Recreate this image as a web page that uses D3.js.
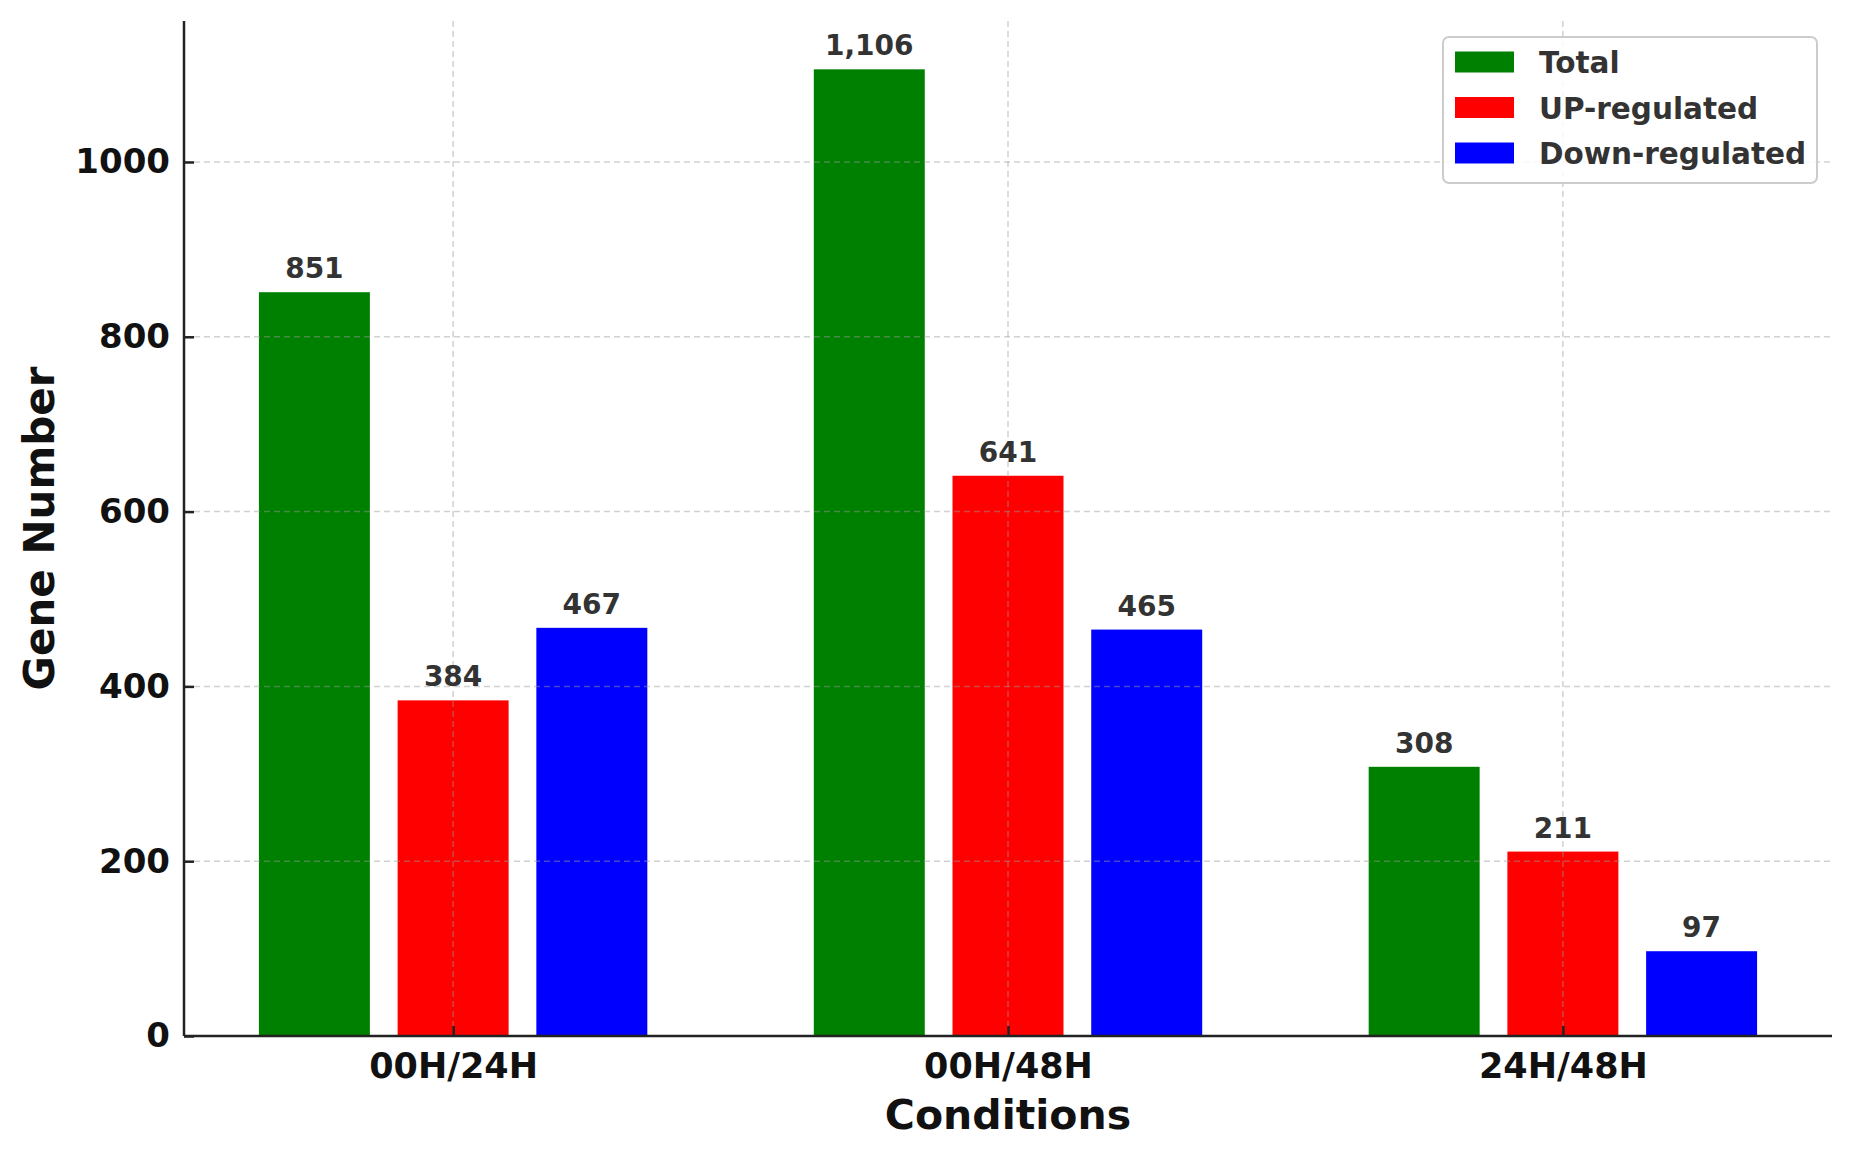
<!doctype html>
<html>
<head>
<meta charset="UTF-8">
<script src="https://d3js.org/d3.v7.min.js"></script>
<style>
	body { margin: 0; background: #fff; }
	text { font-family: "DejaVu Sans", sans-serif; font-weight: bold; }
</style>
</head>
<body>
<svg id="chart"></svg>
<script>
	// data
	const conditions = ["00H/24H", "00H/48H", "24H/48H"];
	const seriesNames = ["Total", "UP-regulated", "Down-regulated"];
	const seriesColors = ["#008000", "#ff0000", "#0000ff"];
	const totalValues = [851, 1106, 308];
	const upValues = [384, 641, 211];
	const downValues = [467, 465, 97];
	const yTicks = [0, 200, 400, 600, 800, 1000];

	const series = [totalValues, upValues, downValues];

	const W = 1853, H = 1159;
	const margin = {top: 21, right: 21, bottom: 123, left: 184};
	const width = W - margin.left - margin.right,
		height = H - margin.top - margin.bottom;

	const barW = 0.2, step = 0.25;
	const xMin = -0.35 - 0.135, xMax = 2.35 + 0.135;

	const xSca = d3.scaleLinear().domain([xMin, xMax]).range([0, width]);
	const ySca = d3.scaleLinear().domain([0, d3.max(totalValues) * 1.05]).range([height, 0]);

	const svg = d3.select("#chart")
		.attr("width", W)
		.attr("height", H);

	svg.append("rect").attr("width", W).attr("height", H).attr("fill", "#fff");

	const chart = svg.append("g")
		.attr("transform", "translate(" + margin.left + "," + margin.top + ")");

	// bars
	series.forEach(function(vals, s) {
		chart.selectAll(".bar" + s)
			.data(vals)
		  .enter().append("rect")
			.attr("class", "bar" + s)
			.attr("x", function(d, i) { return xSca(i + (s - 1) * step - barW / 2); })
			.attr("width", xSca(barW) - xSca(0))
			.attr("y", function(d) { return ySca(d); })
			.attr("height", function(d) { return height - ySca(d); })
			.attr("fill", seriesColors[s]);
	});

	// grid on top of bars
	const grid = chart.append("g")
		.attr("stroke", "#999")
		.attr("stroke-opacity", 0.45)
		.attr("stroke-width", 1.5)
		.attr("stroke-dasharray", "6,4");
	grid.selectAll(".hgrid")
		.data(yTicks.slice(1))
	  .enter().append("line")
		.attr("x1", 0).attr("x2", width)
		.attr("y1", function(d) { return ySca(d); })
		.attr("y2", function(d) { return ySca(d); });
	grid.selectAll(".vgrid")
		.data(conditions)
	  .enter().append("line")
		.attr("y1", 0).attr("y2", height)
		.attr("x1", function(d, i) { return xSca(i); })
		.attr("x2", function(d, i) { return xSca(i); });

	// value labels
	const fmt = d3.format(",");
	series.forEach(function(vals, s) {
		chart.selectAll(".lbl" + s)
			.data(vals)
		  .enter().append("text")
			.attr("x", function(d, i) { return xSca(i + (s - 1) * step); })
			.attr("y", function(d) { return ySca(d) - 14; })
			.attr("text-anchor", "middle")
			.style("font-size", "28px")
			.attr("fill", "#333")
			.text(function(d) { return fmt(d); });
	});

	// axes
	const yAxis = d3.axisLeft(ySca).tickValues(yTicks).tickSize(-10).tickPadding(14).tickFormat(d3.format("d"));
	const xAxis = d3.axisBottom(xSca).tickValues([0, 1, 2]).tickSize(-10).tickPadding(17)
		.tickFormat(function(d) { return conditions[d]; });

	const gy = chart.append("g").call(yAxis);
	gy.select(".domain").attr("d", "M0," + height + "V0").attr("stroke", "#222").attr("stroke-width", 2.5);
	gy.selectAll(".tick line").attr("stroke", "#222").attr("stroke-width", 2.5);
	gy.selectAll(".tick text").style("font-size", "34px").attr("fill", "#111").attr("font-family", null);

	const gx = chart.append("g").attr("transform", "translate(0," + height + ")").call(xAxis);
	gx.select(".domain").attr("d", "M0,0H" + width).attr("stroke", "#222").attr("stroke-width", 2.5);
	gx.selectAll(".tick line").attr("stroke", "#222").attr("stroke-width", 2.5);
	gx.selectAll(".tick text").style("font-size", "35px").attr("fill", "#111").attr("font-family", null);

	// axis titles
	chart.append("text")
		.attr("x", xSca(1))
		.attr("y", height + 93)
		.attr("text-anchor", "middle")
		.style("font-size", "41px")
		.attr("fill", "#111")
		.text("Conditions");

	chart.append("text")
		.attr("transform", "translate(" + (54 - margin.left) + "," + (height / 2) + ") rotate(-90)")
		.attr("text-anchor", "middle")
		.style("font-size", "42px")
		.attr("fill", "#111")
		.text("Gene Number");

	// legend
	const legend = svg.append("g").attr("transform", "translate(1443,37)");
	legend.append("rect")
		.attr("width", 374).attr("height", 146)
		.attr("rx", 6)
		.attr("fill", "#fff").attr("fill-opacity", 0.85)
		.attr("stroke", "#ccc").attr("stroke-width", 2);
	const items = legend.selectAll(".item")
		.data(seriesNames)
	  .enter().append("g")
		.attr("transform", function(d, i) { return "translate(0," + (25 + i * 45.5) + ")"; });
	items.append("rect")
		.attr("x", 12).attr("y", -10.5)
		.attr("width", 59).attr("height", 21)
		.attr("fill", function(d, i) { return seriesColors[i]; });
	items.append("text")
		.attr("x", 96).attr("y", 11)
		.style("font-size", "29.5px")
		.attr("fill", "#333")
		.text(function(d) { return d; });
</script>
</body>
</html>
